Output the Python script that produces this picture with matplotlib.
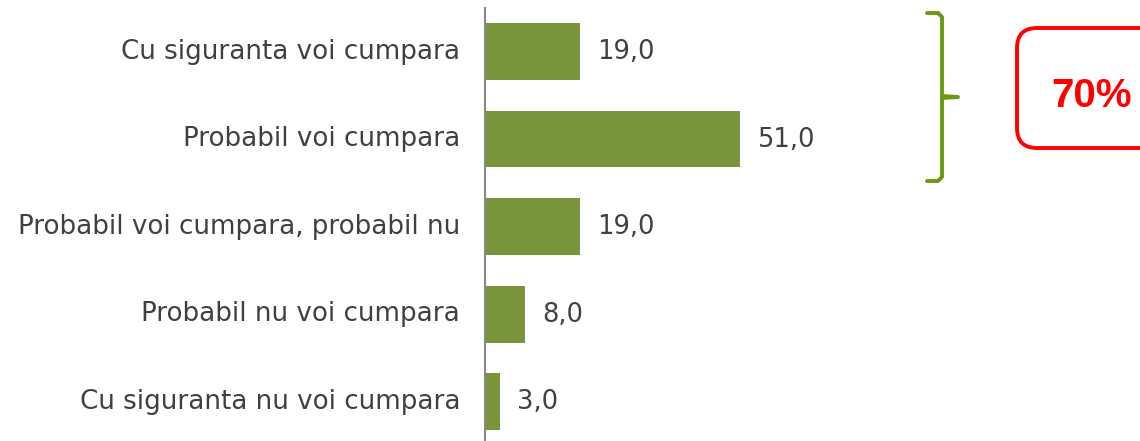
import matplotlib
matplotlib.use("Agg")
import matplotlib.pyplot as plt
from matplotlib.patches import FancyBboxPatch

categories = ["Cu siguranta voi cumpara", "Probabil voi cumpara",
              "Probabil voi cumpara, probabil nu", "Probabil nu voi cumpara",
              "Cu siguranta nu voi cumpara"]
values = [19.0, 51.0, 19.0, 8.0, 3.0]
summary_label = "70%"

W, H = 1140, 441
fig = plt.figure(figsize=(W / 100, H / 100), dpi=100)
ax = fig.add_axes([485 / W, 0, (W - 485) / W, (H - 8) / H])

bar_color = "#7a943c"
text_color = "#404040"
y = list(range(len(categories)))
ax.barh(y, values, height=0.65, color=bar_color)
ax.set_xlim(0, 131)
ax.set_ylim(4.45, -0.497)
for yi, v in zip(y, values):
    ax.text(v + 3.4, yi + 0.01, f"{v:.1f}".replace(".", ","), va="center", ha="left",
            fontsize=18.5, color=text_color)
ax.set_yticks(y)
ax.set_yticklabels(categories, fontsize=18.8, color=text_color, va="center")
ax.tick_params(axis="y", length=0, pad=18)
ax.set_xticks([])
for s in ["top", "right", "bottom"]:
    ax.spines[s].set_visible(False)
ax.spines["left"].set_color("#888888")
ax.spines["left"].set_linewidth(1.5)

# overlay in pixel coordinates
ov = fig.add_axes([0, 0, 1, 1])
ov.set_xlim(0, W)
ov.set_ylim(H, 0)
ov.axis("off")
ov.patch.set_alpha(0)

brace_color = "#6a9a12"
bx = 942
pts_x = [927, 938, bx, bx, 958, bx, bx, 938, 927]
pts_y = [13, 13, 17, 96, 97, 98, 177, 181, 181]
ov.plot(pts_x, pts_y, color=brace_color, lw=2.8, solid_joinstyle="round",
        solid_capstyle="round")

box = FancyBboxPatch((1017, 28), 160, 120,
                     boxstyle="round,pad=0,rounding_size=20",
                     fill=False, edgecolor="#ff0000", lw=2.8)
ov.add_patch(box)
ov.text(1092, 96, summary_label, color="#ff0000", fontsize=29,
        fontweight="bold", family="Liberation Sans", ha="center", va="center")

fig.savefig("out.png", dpi=100)
